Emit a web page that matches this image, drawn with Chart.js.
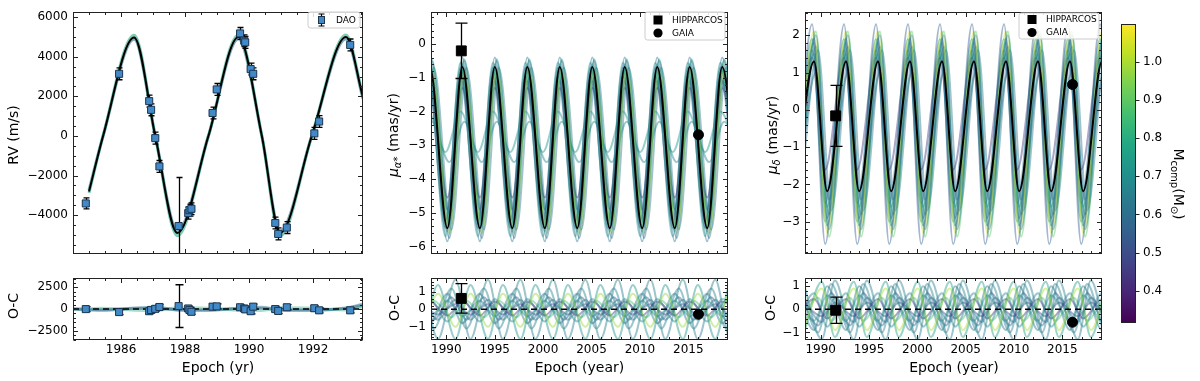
<!DOCTYPE html>
<html><head><meta charset="utf-8">
<script src="https://cdn.jsdelivr.net/npm/chart.js@4.4.1/dist/chart.umd.min.js"></script>
<style>
html,body{margin:0;padding:0;background:#fff;}
#root{position:relative;width:1200px;height:381px;overflow:hidden;background:#fff;}
.w{position:absolute;}
canvas{display:block;}
</style></head><body><div id="root"></div>
<script>
// ================= DATA =================
// --- RV panel (DAO) ---
const rvEpoch = [1984.90,1985.94,1986.88,1986.94,1987.07,1987.20,1987.80,1988.10,1988.14,1988.20,1988.86,1988.99,1989.72,1989.85,1989.88,1990.05,1990.13,1990.82,1990.91,1991.18,1992.04,1992.19,1993.16];
const rvValue = [-3410,3140,1760,1320,-110,-1540,-4550,-3900,-3750,-3680,1160,2350,5180,4810,4730,3380,3140,-4400,-4950,-4630,130,730,4600];
const rvError = [280,300,300,300,300,300,2450,300,300,300,300,300,300,300,300,300,300,300,300,300,300,300,300];
const rvResid = [0,-340,-240,-100,30,240,340,70,-100,-310,280,310,210,70,-30,-240,280,0,-210,210,100,-140,-140];
const rvBestT = [1985.00,1985.44,1986.41,1987.07,1987.76,1988.73,1989.67,1990.40,1990.97,1991.96,1993.03,1993.56];
const rvBestV = [-2810,0,4970,0,-4900,0,5000,0,-4900,0,5000,1950];
const rvPostHi = [-2880,0,5090,0,-5040,0,5100,0,-5040,0,5100,2020];
const rvPostLo = [-2740,0,4880,0,-4800,0,4900,0,-4800,0,4900,1880];
const rvResPostT = [1984.5,1985.4,1986.4,1987.1,1987.8,1988.7,1989.7,1990.4,1991.0,1992.0,1993.0,1993.6];
const rvResPostA = [0,-150,120,200,-120,-150,120,200,-120,-150,120,600];
const rvResPostB = [0,100,-120,-150,150,100,-120,-150,150,100,-100,300];
const rvResPostC = [0,-60,60,90,-80,-70,60,100,-60,-80,80,450];
const rvXTicks = [1986,1988,1990,1992];
const rvYTicks = [-4000,-2000,0,2000,4000,6000];
const rvResYTicks = [-2500,0,2500];

// --- proper-motion panels (HIPPARCOS / GAIA) ---
const pmXTicks = [1990,1995,2000,2005,2010,2015];
const pmraYTicks = [-6,-5,-4,-3,-2,-1,0];
const pmdecYTicks = [-3,-2,-1,0,1,2];
const resYTicks = [-1,0,1];
const hipEpoch = [1991.55];
const gaiaEpoch = [2016.05];
const pmraHip = [-0.20], pmraHipErr = [0.82], pmraGaia = [-2.69], pmraGaiaErr = [0.05];
const pmraHipRes = [0.63], pmraHipResErr = [0.85], pmraGaiaRes = [-0.28];
const pmdecHip = [-0.16], pmdecHipErr = [0.82], pmdecGaia = [0.68];
const pmdecHipRes = [-0.04], pmdecHipResErr = [0.57], pmdecGaiaRes = [-0.56];

// times of successive extrema (trough first)
const pmraTA = [1986.75,1988.30,1990.11,1991.66,1993.47,1995.01,1996.82,1998.37,2000.18,2001.72,2003.53,2005.08,2006.89,2008.43,2010.24,2011.79,2013.60,2015.14,2016.95,2018.50,2020.31];
const pmraTB = [1986.55,1988.10,1989.91,1991.46,1993.27,1994.81,1996.62,1998.17,1999.98,2001.52,2003.33,2004.88,2006.69,2008.23,2010.04,2011.59,2013.40,2014.94,2016.75,2018.30,2020.11];
const pmraTC = [1986.95,1988.50,1990.31,1991.86,1993.67,1995.21,1997.02,1998.57,2000.38,2001.92,2003.73,2005.28,2007.09,2008.63,2010.44,2011.99,2013.80,2015.34,2017.15,2018.70,2020.51];
const pmraTQ = [1987.59,1989.14,1990.95,1992.50,1994.31,1995.85,1997.66,1999.21,2001.02,2002.56,2004.37,2005.92,2007.73,2009.27,2011.08,2012.63,2014.44,2015.98,2017.79,2019.34,2021.15];
const pmraTR = [1987.17,1988.72,1990.53,1992.08,1993.89,1995.43,1997.24,1998.79,2000.60,2002.14,2003.95,2005.50,2007.31,2008.85,2010.66,2012.21,2014.02,2015.56,2017.37,2018.92,2020.73];
const pmdecTA = [1987.36,1989.31,1990.67,1992.62,1993.98,1995.93,1997.29,1999.24,2000.60,2002.55,2003.91,2005.86,2007.22,2009.17,2010.53,2012.48,2013.84,2015.79,2017.15,2019.10,2020.46];
const pmdecTB = [1987.16,1989.11,1990.47,1992.42,1993.78,1995.73,1997.09,1999.04,2000.40,2002.35,2003.71,2005.66,2007.02,2008.97,2010.33,2012.28,2013.64,2015.59,2016.95,2018.90,2020.26];
const pmdecTC = [1987.56,1989.51,1990.87,1992.82,1994.18,1996.13,1997.49,1999.44,2000.80,2002.75,2004.11,2006.06,2007.42,2009.37,2010.73,2012.68,2014.04,2015.99,2017.35,2019.30,2020.66];
const pmdecTQ = [1988.16,1990.11,1991.47,1993.42,1994.78,1996.73,1998.09,2000.04,2001.40,2003.35,2004.71,2006.66,2008.02,2009.97,2011.33,2013.28,2014.64,2016.59,2017.95,2019.90,2021.26];
const pmdecTR = [1987.78,1989.73,1991.09,1993.04,1994.40,1996.35,1997.71,1999.66,2001.02,2002.97,2004.33,2006.28,2007.64,2009.59,2010.95,2012.90,2014.26,2016.21,2017.57,2019.52,2020.88];

// best fit [trough, peak]
const pmraBest = [-5.46,-0.68];
const pmdecBest = [-2.18,1.30];
// posterior draws: [time set, value at 1st extremum, value at 2nd, companion mass]
const pmraPost = [['B',-5.70,-0.55,0.70],['A',-5.85,-0.40,0.62],['C',-5.60,-0.75,0.98],['B',-5.25,-0.95,0.52],['C',-5.00,-1.00,0.64],['A',-4.55,-1.30,0.42],['C',-5.35,-0.45,0.75],['A',-5.20,-0.85,0.90],['B',-3.20,-2.00,0.72],['C',-3.50,-2.30,0.68],['A',-5.55,-0.60,0.66],['B',-5.45,-0.70,0.64],['C',-5.75,-0.50,0.60],['A',-4.90,-1.10,0.58],['R',-5.50,-0.70,0.63]];
const pmdecPost = [['B',-3.60,2.30,0.55],['A',-3.30,2.10,1.02],['B',-3.00,1.90,0.70],['C',-2.80,1.70,0.62],['A',-2.60,1.50,0.78],['B',-1.60,1.40,0.45],['C',-2.40,1.00,0.60],['A',-3.10,1.90,0.66],['A',-2.90,1.80,0.64],['C',-3.20,2.00,0.66],['B',-2.50,1.60,0.60],['C',-3.40,2.10,0.90],['R',-2.70,1.60,0.63]];
const pmraResPost = [['Q',1.70,-1.70,0.64],['Q',-1.00,0.90,0.98],['A',0.50,-0.40,0.70],['A',-0.35,0.45,0.45],['Q',0.55,-0.60,0.62],['Q',-1.70,1.40,0.72],['A',0.90,-0.80,0.62],['R',0.70,-0.60,0.58],['R',-0.45,0.50,0.85],['R',1.20,-1.10,0.66],['Q',0.30,-0.30,0.50],['A',-0.70,0.60,0.68]];
const pmdecResPost = [['Q',1.25,-1.30,0.64],['Q',-0.90,0.90,1.00],['A',0.60,-0.50,0.70],['A',-0.40,0.45,0.45],['Q',0.50,-0.55,0.62],['Q',-1.20,1.20,0.76],['A',1.00,-0.90,0.62],['R',0.70,-0.70,0.58],['R',-0.50,0.50,0.88],['R',1.10,-1.00,0.66],['Q',0.30,-0.30,0.48],['A',-0.75,0.70,0.68]];

// colour bar
const cbRange = [0.315, 1.10];
const cbTicks = [0.4,0.5,0.6,0.7,0.8,0.9,1.0];
const viridisStops = ['#440154','#482475','#414487','#355f8d','#2a788e','#21918c','#22a884','#44bf70','#7ad151','#bddf26','#fde725'];

// ================= HELPERS =================
const FAM = 'DejaVu Sans';
function hexToRgb(h){return [parseInt(h.slice(1,3),16),parseInt(h.slice(3,5),16),parseInt(h.slice(5,7),16)];}
function viridis(t){t=Math.max(0,Math.min(1,t));const n=viridisStops.length-1;const i=Math.min(n-1,Math.floor(t*n));const f=t*n-i;const a=hexToRgb(viridisStops[i]),b=hexToRgb(viridisStops[i+1]);return a.map((v,k)=>Math.round(v+(b[k]-v)*f));}
function massColor(m,al){const c=viridis((m-cbRange[0])/(cbRange[1]-cbRange[0]));return `rgba(${c[0]},${c[1]},${c[2]},${al})`;}
function alt(T,pair){return T.map((t,i)=>({x:t,y:pair[i%2]}));}
function xy(T,V){return T.map((t,i)=>({x:t,y:V[i]}));}
function curve(data,color,width,order){return {type:'line',data,borderColor:color,backgroundColor:color,borderWidth:width,pointRadius:0,cubicInterpolationMode:'monotone',fill:false,clip:0,order};}
function fmt(v,dec){let s=dec?Math.abs(v).toFixed(dec):String(Math.abs(v));return (v<0?'\u2212':'')+s;}

const errPlugin={id:'errbars',beforeDatasetDraw(chart,args){const ds=chart.data.datasets[args.index];if(!ds.errors)return;const {ctx,chartArea:a,scales:{x,y}}=chart;ctx.save();ctx.beginPath();ctx.rect(a.left,a.top,a.width,a.height);ctx.clip();ctx.strokeStyle='#000';ctx.lineWidth=1.3;
 ds.data.forEach((d,i)=>{const e=ds.errors[i];if(!e)return;const px=Math.round(x.getPixelForValue(d.x))+0.5,y1=y.getPixelForValue(d.y+e),y2=y.getPixelForValue(d.y-e);const c=ds.cap||3;ctx.beginPath();ctx.moveTo(px,y1);ctx.lineTo(px,y2);ctx.moveTo(px-c,y1);ctx.lineTo(px+c,y1);ctx.moveTo(px-c,y2);ctx.lineTo(px+c,y2);ctx.stroke();});ctx.restore();}};
Chart.register(errPlugin);

function framePlugin(f){return {id:'frame',afterDatasetsDraw(chart){const {ctx,chartArea:a,scales}=chart;const xs=scales.x,ys=scales.y;ctx.save();ctx.strokeStyle='#222';ctx.lineWidth=1;
 const L=Math.round(a.left)+0.5,R=Math.round(a.right)-0.5,T=Math.round(a.top)+0.5,B=Math.round(a.bottom)-0.5;
 const seg=(x1,y1,x2,y2)=>{ctx.beginPath();ctx.moveTo(x1,y1);ctx.lineTo(x2,y2);ctx.stroke();};
 const near=(v,arr,eps)=>arr.some(m=>Math.abs(m-v)<eps);
 if(f.xMajor){f.xMajor.forEach(v=>{const p=Math.round(xs.getPixelForValue(v))+0.5;if(p<L||p>R)return;seg(p,B,p,B-4.5);seg(p,T,p,T+4.5);});
  if(f.xMinor)for(let k=Math.ceil(xs.min/f.xMinor);k*f.xMinor<=xs.max;k++){const v=k*f.xMinor;if(near(v,f.xMajor,f.xMinor/10))continue;const p=Math.round(xs.getPixelForValue(v))+0.5;seg(p,B,p,B-2.5);seg(p,T,p,T+2.5);}}
 if(f.yMajor){f.yMajor.forEach(v=>{const p=Math.round(ys.getPixelForValue(v))+0.5;if(p<T||p>B)return;if(f.cb){seg(R,p,R+4,p);}else{seg(L,p,L+4.5,p);seg(R,p,R-4.5,p);}});
  if(f.yMinor)for(let k=Math.ceil(ys.min/f.yMinor);k*f.yMinor<=ys.max;k++){const v=k*f.yMinor;if(near(v,f.yMajor,f.yMinor/10))continue;const p=Math.round(ys.getPixelForValue(v))+0.5;seg(L,p,L+2.5,p);seg(R,p,R-2.5,p);}}
 ctx.strokeRect(L,T,R-L,B-T);ctx.restore();}};}

function textPlugin(items,ox,oy){return {id:'texts',afterDraw(chart){const ctx=chart.ctx;items.forEach(it=>{ctx.save();ctx.translate(it.x-ox,it.y-oy);ctx.rotate(it.rot||0);ctx.textBaseline='middle';ctx.fillStyle='#000';
 const fontOf=p=>(p.italic?'italic ':'')+p.size+'px "'+FAM+'"';let w=0;it.parts.forEach(p=>{ctx.font=fontOf(p);w+=ctx.measureText(p.t).width;});
 let x=-w/2;it.parts.forEach(p=>{ctx.font=fontOf(p);ctx.fillText(p.t,x,p.dy||0);x+=ctx.measureText(p.t).width;});ctx.restore();});}};}

function legendPlugin(Lg,ox,oy){return {id:'lg',afterDraw(chart){const ctx=chart.ctx;ctx.save();ctx.translate(-ox,-oy);
 const [x0,y0,x1,y1]=Lg.box;const r=2.5;ctx.beginPath();ctx.moveTo(x0+r,y0);ctx.lineTo(x1-r,y0);ctx.arcTo(x1,y0,x1,y0+r,r);ctx.lineTo(x1,y1-r);ctx.arcTo(x1,y1,x1-r,y1,r);ctx.lineTo(x0+r,y1);ctx.arcTo(x0,y1,x0,y1-r,r);ctx.lineTo(x0,y0+r);ctx.arcTo(x0,y0,x0+r,y0,r);ctx.closePath();
 ctx.fillStyle='rgba(255,255,255,0.85)';ctx.fill();ctx.strokeStyle='#cccccc';ctx.lineWidth=1;ctx.stroke();
 Lg.items.forEach(it=>{const mx=Lg.mx,my=it.y;
  if(it.m==='err'){ctx.strokeStyle='#000';ctx.lineWidth=1.2;ctx.beginPath();ctx.moveTo(mx+0.5,my-6);ctx.lineTo(mx+0.5,my+6);ctx.moveTo(mx-2.5,my-6);ctx.lineTo(mx+3.5,my-6);ctx.moveTo(mx-2.5,my+6);ctx.lineTo(mx+3.5,my+6);ctx.stroke();
   ctx.fillStyle='#4189c7';ctx.strokeStyle='#1b3550';ctx.lineWidth=1;ctx.fillRect(mx-3,my-4,7,8);ctx.strokeRect(mx-3+0.5,my-4+0.5,6,7);}
  else if(it.m==='sq'){ctx.fillStyle='#000';ctx.fillRect(mx-4.5,my-4.5,9,9);}
  else {ctx.fillStyle='#000';ctx.beginPath();ctx.arc(mx,my,4.6,0,Math.PI*2);ctx.fill();}
  ctx.fillStyle='#000';ctx.font='9px "'+FAM+'"';ctx.textBaseline='middle';ctx.fillText(it.t,Lg.tx,my+0.5);});
 ctx.restore();}};}

function mkCanvas(box){const d=document.createElement('div');d.className='w';d.style.left=box[0]+'px';d.style.top=box[1]+'px';d.style.width=box[2]+'px';d.style.height=box[3]+'px';const c=document.createElement('canvas');c.width=box[2];c.height=box[3];c.style.width=box[2]+'px';c.style.height=box[3]+'px';d.appendChild(c);document.getElementById('root').appendChild(d);return c;}

function panel(box,area,cfg){
 const cv=mkCanvas(box);
 const padTop=area[1]-box[1],padRight=box[0]+box[2]-area[2],yW=area[0]-box[0],xH=box[1]+box[3]-area[3];
 const plugins=[framePlugin({xMajor:cfg.x.major,xMinor:cfg.x.minor,yMajor:cfg.y.major,yMinor:cfg.y.minor}),textPlugin(cfg.texts||[],box[0],box[1])];
 if(cfg.legend)plugins.push(legendPlugin(cfg.legend,box[0],box[1]));
 return new Chart(cv,{type:'line',data:{datasets:cfg.datasets},
  options:{responsive:false,animation:false,events:[],devicePixelRatio:1,
   layout:{padding:{top:padTop,right:padRight,left:0,bottom:0}},
   plugins:{legend:{display:false},tooltip:{enabled:false}},
   scales:{
    x:{type:'linear',min:cfg.x.min,max:cfg.x.max,grid:{display:false,drawTicks:false},border:{display:false},
     ticks:{display:!!cfg.x.labels,padding:3,font:{family:FAM,size:12},color:'#000',maxRotation:0,autoSkip:false,callback:v=>fmt(v)},
     afterBuildTicks:s=>{s.ticks=cfg.x.major.map(v=>({value:v}));},afterFit:s=>{s.height=xH;}},
    y:{type:'linear',min:cfg.y.min,max:cfg.y.max,grid:{display:false,drawTicks:false},border:{display:false},
     ticks:{padding:5,font:{family:FAM,size:12},color:'#000',autoSkip:false,callback:v=>fmt(v)},
     afterBuildTicks:s=>{s.ticks=cfg.y.major.map(v=>({value:v}));},afterFit:s=>{s.width=yW;}}
   }},plugins});
}

const ptsDS=(T,V,E,style,r,bg,bc,cap)=>({type:'line',showLine:false,data:xy(T,V),errors:E,cap,pointStyle:style,pointRadius:r,pointBackgroundColor:bg,pointBorderColor:bc,pointBorderWidth:1,borderColor:bc,backgroundColor:bg,order:0,clip:false});
const zeroDS=(x0,x1)=>({type:'line',data:[{x:x0,y:0},{x:x1,y:0}],borderColor:'#000',borderWidth:1.5,borderDash:[6,4],pointRadius:0,order:1,clip:0});

// ================= PANEL 1 : RV =================
const rvX=[1984.50,1993.56];
panel([0,0,372,266],[73,7,363,263],{
 x:{min:rvX[0],max:rvX[1],major:rvXTicks,minor:0.5,labels:false},
 y:{min:-5955,max:6253,major:rvYTicks,minor:500},
 datasets:[
  ptsDS(rvEpoch,rvValue,rvError,'rect',5,'#4189c7','#1b3550',3),
  curve(xy(rvBestT,rvBestV),'#000',2,1),
  curve(xy(rvBestT,rvPostHi),massColor(0.80,0.6),3,5),
  curve(xy(rvBestT,rvPostLo),massColor(0.60,0.6),3,6)
 ],
 texts:[{x:14,y:135,rot:-Math.PI/2,parts:[{t:'RV (m/s)',size:14}]}],
 legend:{box:[308,12,360,28],mx:321,tx:336,items:[{m:'err',y:20,t:'DAO'}]}
});
panel([0,266,372,115],[73,272,363,340],{
 x:{min:rvX[0],max:rvX[1],major:rvXTicks,minor:0.5,labels:true},
 y:{min:-3541,max:3541,major:rvResYTicks,minor:500},
 datasets:[
  ptsDS(rvEpoch,rvResid,rvError,'rect',5,'#4189c7','#1b3550',4),
  zeroDS(rvX[0],rvX[1]),
  curve(xy(rvResPostT,rvResPostA),massColor(0.62,0.45),3,5),
  curve(xy(rvResPostT,rvResPostB),massColor(0.80,0.4),3,6),
  curve(xy(rvResPostT,rvResPostC),massColor(0.55,0.5),3,7)
 ],
 texts:[{x:14,y:306,rot:-Math.PI/2,parts:[{t:'O-C',size:14}]},{x:218,y:368,parts:[{t:'Epoch (yr)',size:14}]}]
});

// ================= PANEL 2 : mu_alpha =================
const pmX=[1988.42,2019.10];
const raSets={A:pmraTA,B:pmraTB,C:pmraTC,Q:pmraTQ,R:pmraTR};
const decSets={A:pmdecTA,B:pmdecTB,C:pmdecTC,Q:pmdecTQ,R:pmdecTR};
const postDS=(list,S,al)=>list.map((p,i)=>curve(alt(S[p[0]],[p[1],p[2]]),massColor(p[3],al),2,10+i));
panel([372,0,366,266],[431,8,728,263],{
 x:{min:pmX[0],max:pmX[1],major:pmXTicks,minor:1,labels:false},
 y:{min:-6.22,max:0.947,major:pmraYTicks,minor:0.2},
 datasets:[
  ptsDS(hipEpoch,pmraHip,pmraHipErr,'rect',7,'#000','#000',6),
  ptsDS(gaiaEpoch,pmraGaia,pmraGaiaErr,'circle',5,'#000','#000',3),
  curve(alt(pmraTA,pmraBest),'#000',2,1),
  ...postDS(pmraPost,raSets,0.45)
 ],
 texts:[{x:394,y:135,rot:-Math.PI/2,parts:[{t:'\u03bc',size:14,italic:true},{t:'\u03b1*',size:10,italic:true,dy:4},{t:' (mas/yr)',size:14}]}],
 legend:{box:[645,12,725,40],mx:658,tx:672,items:[{m:'sq',y:20,t:'HIPPARCOS'},{m:'ci',y:33,t:'GAIA'}]}
});
panel([372,266,366,115],[431,276,728,340],{
 x:{min:pmX[0],max:pmX[1],major:pmXTicks,minor:1,labels:true},
 y:{min:-1.76,max:1.79,major:resYTicks,minor:0.2},
 datasets:[
  ptsDS(hipEpoch,pmraHipRes,pmraHipResErr,'rect',7,'#000','#000',6),
  ptsDS(gaiaEpoch,pmraGaiaRes,[0],'circle',5,'#000','#000',3),
  zeroDS(pmX[0],pmX[1]),
  ...postDS(pmraResPost,raSets,0.45)
 ],
 texts:[{x:395,y:308,rot:-Math.PI/2,parts:[{t:'O-C',size:14}]},{x:579.5,y:368,parts:[{t:'Epoch (year)',size:14}]}]
});

// ================= PANEL 3 : mu_delta =================
const pmX3=[1988.38,2019.10];
panel([738,0,372,266],[805,8,1103,263],{
 x:{min:pmX3[0],max:pmX3[1],major:pmXTicks,minor:1,labels:false},
 y:{min:-3.86,max:2.62,major:pmdecYTicks,minor:0.2},
 datasets:[
  ptsDS(hipEpoch,pmdecHip,pmdecHipErr,'rect',7,'#000','#000',6),
  ptsDS(gaiaEpoch,pmdecGaia,[0],'circle',5,'#000','#000',3),
  curve(alt(pmdecTA,pmdecBest),'#000',2,1),
  ...postDS(pmdecPost,decSets,0.45)
 ],
 texts:[{x:773,y:135,rot:-Math.PI/2,parts:[{t:'\u03bc',size:14,italic:true},{t:'\u03b4',size:10,italic:true,dy:4},{t:' (mas/yr)',size:14}]}],
 legend:{box:[1019,13,1099,39],mx:1032,tx:1046,items:[{m:'sq',y:19.5,t:'HIPPARCOS'},{m:'ci',y:32.5,t:'GAIA'}]}
});
panel([738,266,372,115],[805,276,1103,340],{
 x:{min:pmX3[0],max:pmX3[1],major:pmXTicks,minor:1,labels:true},
 y:{min:-1.33,max:1.35,major:resYTicks,minor:0.2},
 datasets:[
  ptsDS(hipEpoch,pmdecHipRes,pmdecHipResErr,'rect',7,'#000','#000',6),
  ptsDS(gaiaEpoch,pmdecGaiaRes,[0],'circle',5,'#000','#000',3),
  zeroDS(pmX3[0],pmX3[1]),
  ...postDS(pmdecResPost,decSets,0.45)
 ],
 texts:[{x:771,y:308,rot:-Math.PI/2,parts:[{t:'O-C',size:14}]},{x:954,y:368,parts:[{t:'Epoch (year)',size:14}]}]
});

// ================= COLOUR BAR =================
(function(){
 const box=[1110,0,90,381],area=[1121,24,1136,323];
 const cv=mkCanvas(box);
 new Chart(cv,{type:'bar',data:{labels:['M'],datasets:[{data:[[cbRange[0],cbRange[1]]],borderWidth:0,barPercentage:1,categoryPercentage:1,
   backgroundColor:(c)=>{const ch=c.chart;if(!ch.chartArea)return '#21918c';const y=ch.scales.y;const g=ch.ctx.createLinearGradient(0,y.getPixelForValue(cbRange[0]),0,y.getPixelForValue(cbRange[1]));viridisStops.forEach((s,i)=>g.addColorStop(i/(viridisStops.length-1),s));return g;}}]},
  options:{responsive:false,animation:false,events:[],devicePixelRatio:1,
   layout:{padding:{left:area[0]-box[0],top:area[1],bottom:box[3]-area[3],right:0}},
   plugins:{legend:{display:false},tooltip:{enabled:false}},
   scales:{x:{display:false},
    y:{position:'right',min:cbRange[0],max:cbRange[1],grid:{display:false,drawTicks:false},border:{display:false},
     ticks:{padding:7,font:{family:FAM,size:12},color:'#000',callback:v=>fmt(v,1)},
     afterBuildTicks:s=>{s.ticks=cbTicks.map(v=>({value:v}));},afterFit:s=>{s.width=box[0]+box[2]-area[2];}}}},
  plugins:[framePlugin({yMajor:cbTicks,cb:true}),textPlugin([{x:1178,y:184,rot:Math.PI/2,parts:[{t:'M',size:14},{t:'comp',size:10,dy:4},{t:'(M',size:14},{t:'\u2299',size:10,dy:4},{t:')',size:14}]}],box[0],box[1])]
 });
})();
</script></body></html>
